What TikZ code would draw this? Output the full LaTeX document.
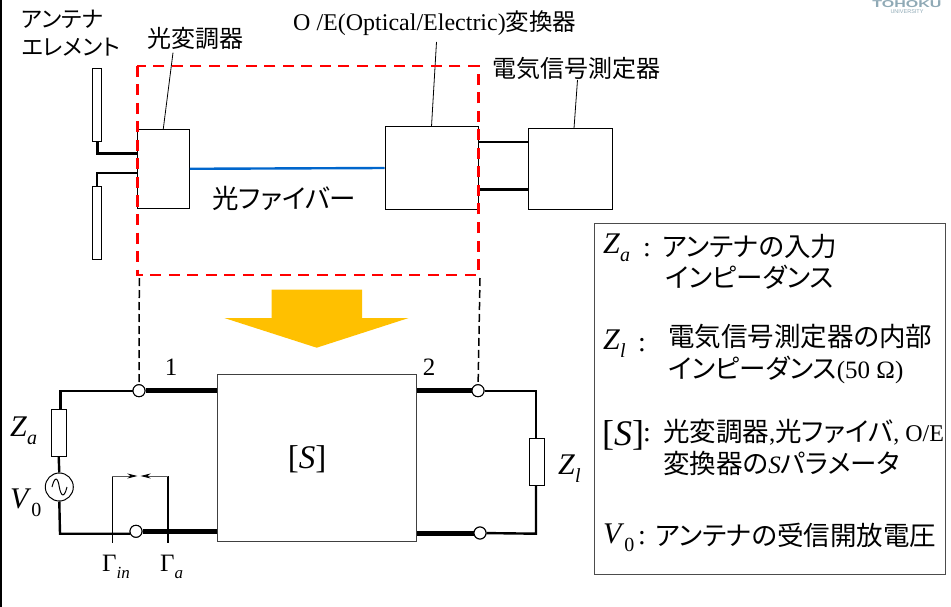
\documentclass[tikz,border=0pt]{standalone}
\usepackage{fontspec}
\setmainfont{Liberation Serif}
\setsansfont{Liberation Sans}
\newfontfamily\jpfont[RawFeature=+palt]{Noto Sans CJK JP}
\usetikzlibrary{arrows.meta}
\definecolor{arrowyellow}{HTML}{FFC000}
\definecolor{fiberblue}{HTML}{0066CC}
\definecolor{logogray}{HTML}{8FA9B5}
\newcommand{\symsub}[3]{\textit{#1}\raisebox{-0.28em}{\fontsize{#3}{#3}\selectfont #2}}
\newcommand{\latin}[2]{{\rmfamily\fontsize{#1}{#1}\selectfont #2}}
\tikzset{
  boxnode/.style = {draw, line width=1pt, inner sep=0pt, fill=white},
  jptext/.style = {inner sep=0pt, font=\jpfont\fontsize{24}{28}\selectfont, align=left},
  legtext/.style = {inner sep=0pt, font=\jpfont\fontsize{26.5}{30}\selectfont, align=left},
  lead/.style = {line width=0.8pt},
  wire/.style = {line width=2.4pt},
  thickwire/.style = {line width=5pt},
  port/.style = {circle, draw, line width=1pt, fill=white, minimum size=12pt, inner sep=0pt},
  sym/.style = {inner sep=0pt, font=\fontsize{30}{34}\selectfont},
  gamma/.style = {inner sep=0pt, font=\fontsize{25}{28}\selectfont},
  colon/.style = {inner sep=0pt, font=\fontsize{28}{30}\selectfont}
}
\begin{document}
\begin{tikzpicture}[x=1pt, y=-1pt]
  \useasboundingbox (0,0) rectangle (951,607);
  \coordinate (edgetop) at (1,0);
  \coordinate (edgebot) at (1,607);
  \draw[line width=1.2pt] (edgetop) -- (edgebot);

  % logo
  \node[inner sep=0pt, text=logogray, font=\sffamily\bfseries\fontsize{10}{10}\selectfont] (logoa) at (907,3.8) {\scalebox{1.6}[1]{TOHOKU}};
  \node[inner sep=0pt, text=logogray, font=\sffamily\fontsize{5.5}{6}\selectfont] (logob) at (907,12) {UNIVERSITY};

  % upper part
  \node[boxnode, minimum width=9pt, minimum height=73pt] (elemup) at (97,105) {};
  \node[boxnode, minimum width=9pt, minimum height=73pt] (elemdn) at (97,223) {};
  \node[boxnode, minimum width=52pt, minimum height=79pt] (mod) at (163.3,168.8) {};
  \node[boxnode, minimum width=93pt, minimum height=82pt] (oe) at (431.5,168) {};
  \node[boxnode, minimum width=84pt, minimum height=80pt] (meas) at (570,169) {};

  \draw[line width=3pt] (elemup.south) |- ([yshift=14.8pt]mod.west);
  \draw[line width=2.2pt] (elemdn.north) |- ([yshift=-4.2pt]mod.west);
  \draw[line width=2.4pt, fiberblue] (mod.east) -- (oe.west);
  \draw[line width=2.2pt] ([yshift=26pt]oe.east) -- ([yshift=27pt]meas.west);
  \draw[line width=3pt] ([yshift=-22pt]oe.east) -- ([yshift=-21pt]meas.west);

  % labels of upper part
  \node[jptext, anchor=west, font=\jpfont\fontsize{22.5}{28}\selectfont] (antlab) at (21.5,33) {アンテナ\\エレメント};
  \node[jptext, anchor=west] (modlab) at (147,38) {光変調器};
  \node[jptext, anchor=west, font=\jpfont\fontsize{26.5}{30}\selectfont] (fiblab) at (212,198) {光ファイバー};
  \node[jptext, anchor=west, font=\jpfont\fontsize{23.5}{26}\selectfont] (oelab) at (293,23) {\latin{24}{O /E(Optical/Electric)}変換器};
  \node[jptext, anchor=west] (measlab) at (492,68) {電気信号測定器};
  \coordinate (modtop) at (173,52.7);
  \coordinate (oetop) at (436.5,42);
  \coordinate (meastop) at (577.5,80);
  \draw[lead] (modtop) -- (mod.north);
  \draw[lead] (oetop) -- (oe.north);
  \draw[lead] (meastop) -- ([xshift=4pt]meas.north);

  % red frame
  \coordinate (framea) at (137.3,66);
  \coordinate (frameb) at (478.3,275);
  \draw[red, line width=2.6pt, dash pattern=on 11pt off 7.5pt] (framea) rectangle (frameb);

  % yellow arrow
  \fill[arrowyellow] (271.7,289.7) -- (362,289.7) -- (362,318) -- (408.7,318) -- (316.7,347.7) -- (224.3,318) -- (271.7,318) -- cycle;

  % circuit
  \node[boxnode, draw=black!75, minimum width=198.7pt, minimum height=167pt] (sbox) at (317.3,458.3) {};
  \node[inner sep=0pt, font=\fontsize{33}{36}\selectfont] (slab) at (307,459) {[\textit{S}]};

  \coordinate (topleft) at (60.5,390.7);
  \coordinate (botleft) at (60,533.7);
  \coordinate (botjoin) at (130,533.7);
  \coordinate (topright) at (536,390.7);
  \coordinate (botright) at (536,533.7);
  \node[port] (p1up) at (139,390.7) {};
  \node[port] (p1dn) at (136,531.3) {};
  \node[port] (p2up) at (478,390.7) {};
  \node[port] (p2dn) at (480,533) {};

  \node[boxnode, minimum width=15pt, minimum height=47pt] (Zabox) at (58.7,432.7) {};
  \node[circle, draw, line width=1pt, fill=white, minimum size=28pt, inner sep=0pt] (src) at (59.3,487) {};
  \draw[line width=1pt] (52,487) .. controls (55,475) and (58,478) .. (59.3,487) .. controls (61,496) and (64,499) .. (67,487);
  \node[boxnode, minimum width=15pt, minimum height=47pt] (Zlbox) at (536.8,462.2) {};

  \draw[wire] (p1up) -- (topleft) -- (topleft |- Zabox.north);
  \draw[wire] (Zabox.south) -- (src.north);
  \draw[wire] (src.south) -- (botleft) -- (botjoin);
  \draw[thickwire] (p1up) -- (p1up -| sbox.west);
  \draw[thickwire] (p1dn) -- (p1dn -| sbox.west);
  \draw[thickwire] (p2up -| sbox.east) -- (p2up);
  \draw[thickwire] (p2dn -| sbox.east) -- (p2dn);
  \draw[wire] (p2up) -- (topright) -- (topright |- Zlbox.north);
  \draw[wire] (topright |- Zlbox.south) -- (botright) -- (p2dn);

  % dashed drops
  \coordinate (dropa) at (139.3,278);
  \coordinate (dropb) at (480,278);
  \draw[line width=1.5pt, dash pattern=on 8pt off 4pt] (dropa) -- (p1up);
  \draw[line width=1.5pt, dash pattern=on 8pt off 4pt] (dropb) -- (p2up);
  \node[port] (p1upb) at (p1up) {};
  \node[port] (p1dnb) at (p1dn) {};
  \node[port] (p2upb) at (p2up) {};
  \node[port] (p2dnb) at (p2dn) {};

  % reflection markers
  \coordinate (gin) at (112,476);
  \coordinate (ga) at (167.7,476);
  \coordinate (ginb) at (112,542.7);
  \coordinate (gab) at (167.7,542.7);
  \coordinate (ginm) at (137.3,476);
  \coordinate (gam) at (140.7,476);
  \draw[line width=1pt] (ginb) -- (gin);
  \draw[line width=1.7pt] (gab) -- (ga);
  \draw[line width=0.8pt, gray!70!black, -{Stealth[black, length=10pt, width=5pt]}] (gin) -- (ginm);
  \draw[line width=0.8pt, gray!70!black, -{Stealth[black, length=10pt, width=5pt]}] (ga) -- (gam);

  % labels of circuit
  \node[inner sep=0pt, font=\fontsize{25}{28}\selectfont] (one) at (171,367) {1};
  \node[inner sep=0pt, font=\fontsize{25}{28}\selectfont] (two) at (429,367) {2};
  \node[sym, anchor=base west] (Zalab) at (10,436) {\symsub{Z}{\textit{a}}{20}};
  \node[sym, anchor=base west] (V0lab) at (10,508) {\symsub{V}{0}{20}};
  \node[sym, anchor=base west] (Zllab) at (558,474) {\symsub{Z}{\textit{l}}{20}};
  \node[gamma, anchor=base west] (ginlab) at (102,571) {\symsub{\textup{Γ}}{\textit{in}}{17}};
  \node[gamma, anchor=base west] (galab) at (160,571) {\symsub{\textup{Γ}}{\textit{a}}{17}};

  % legend
  \node[draw=black!70, line width=1pt, minimum width=351pt, minimum height=351pt, inner sep=0pt] (legend) at (769.5,398.5) {};
  \node[sym, anchor=base west] (legza) at (603,253) {\symsub{Z}{\textit{a}}{20}};
  \node[colon] (colza) at (647,250) {:};
  \node[legtext, anchor=west] (txtza) at (662,247) {アンテナの入力};
  \node[legtext, anchor=west] (txtzb) at (665,277) {インピーダンス};
  \node[sym, anchor=base west] (legzl) at (603,349) {\symsub{Z}{\textit{l}}{20}};
  \node[colon] (colzl) at (642,345) {:};
  \node[legtext, anchor=west] (txtla) at (668,337) {電気信号測定器の内部};
  \node[legtext, anchor=west] (txtlb) at (668,370) {インピーダンス\latin{25}{(50 Ω)}};
  \node[inner sep=0pt, anchor=base west, font=\fontsize{36}{38}\selectfont] (legs) at (602,445) {[\textit{S}]};
  \node[colon] (cols) at (647,435) {:};
  \node[legtext, anchor=west] (txtsa) at (663,432) {光変調器\latin{25}{,}光ファイバ\latin{24}{, O/E}};
  \node[legtext, anchor=west] (txtsb) at (663,463) {変換器の\latin{25}{\textit{S}}パラメータ};
  \node[sym, anchor=base west] (legv) at (603,543) {\symsub{V}{0}{20}};
  \node[colon] (colv) at (642,538) {:};
  \node[legtext, anchor=west] (txtv) at (655,535) {アンテナの受信開放電圧};
\end{tikzpicture}
\end{document}
